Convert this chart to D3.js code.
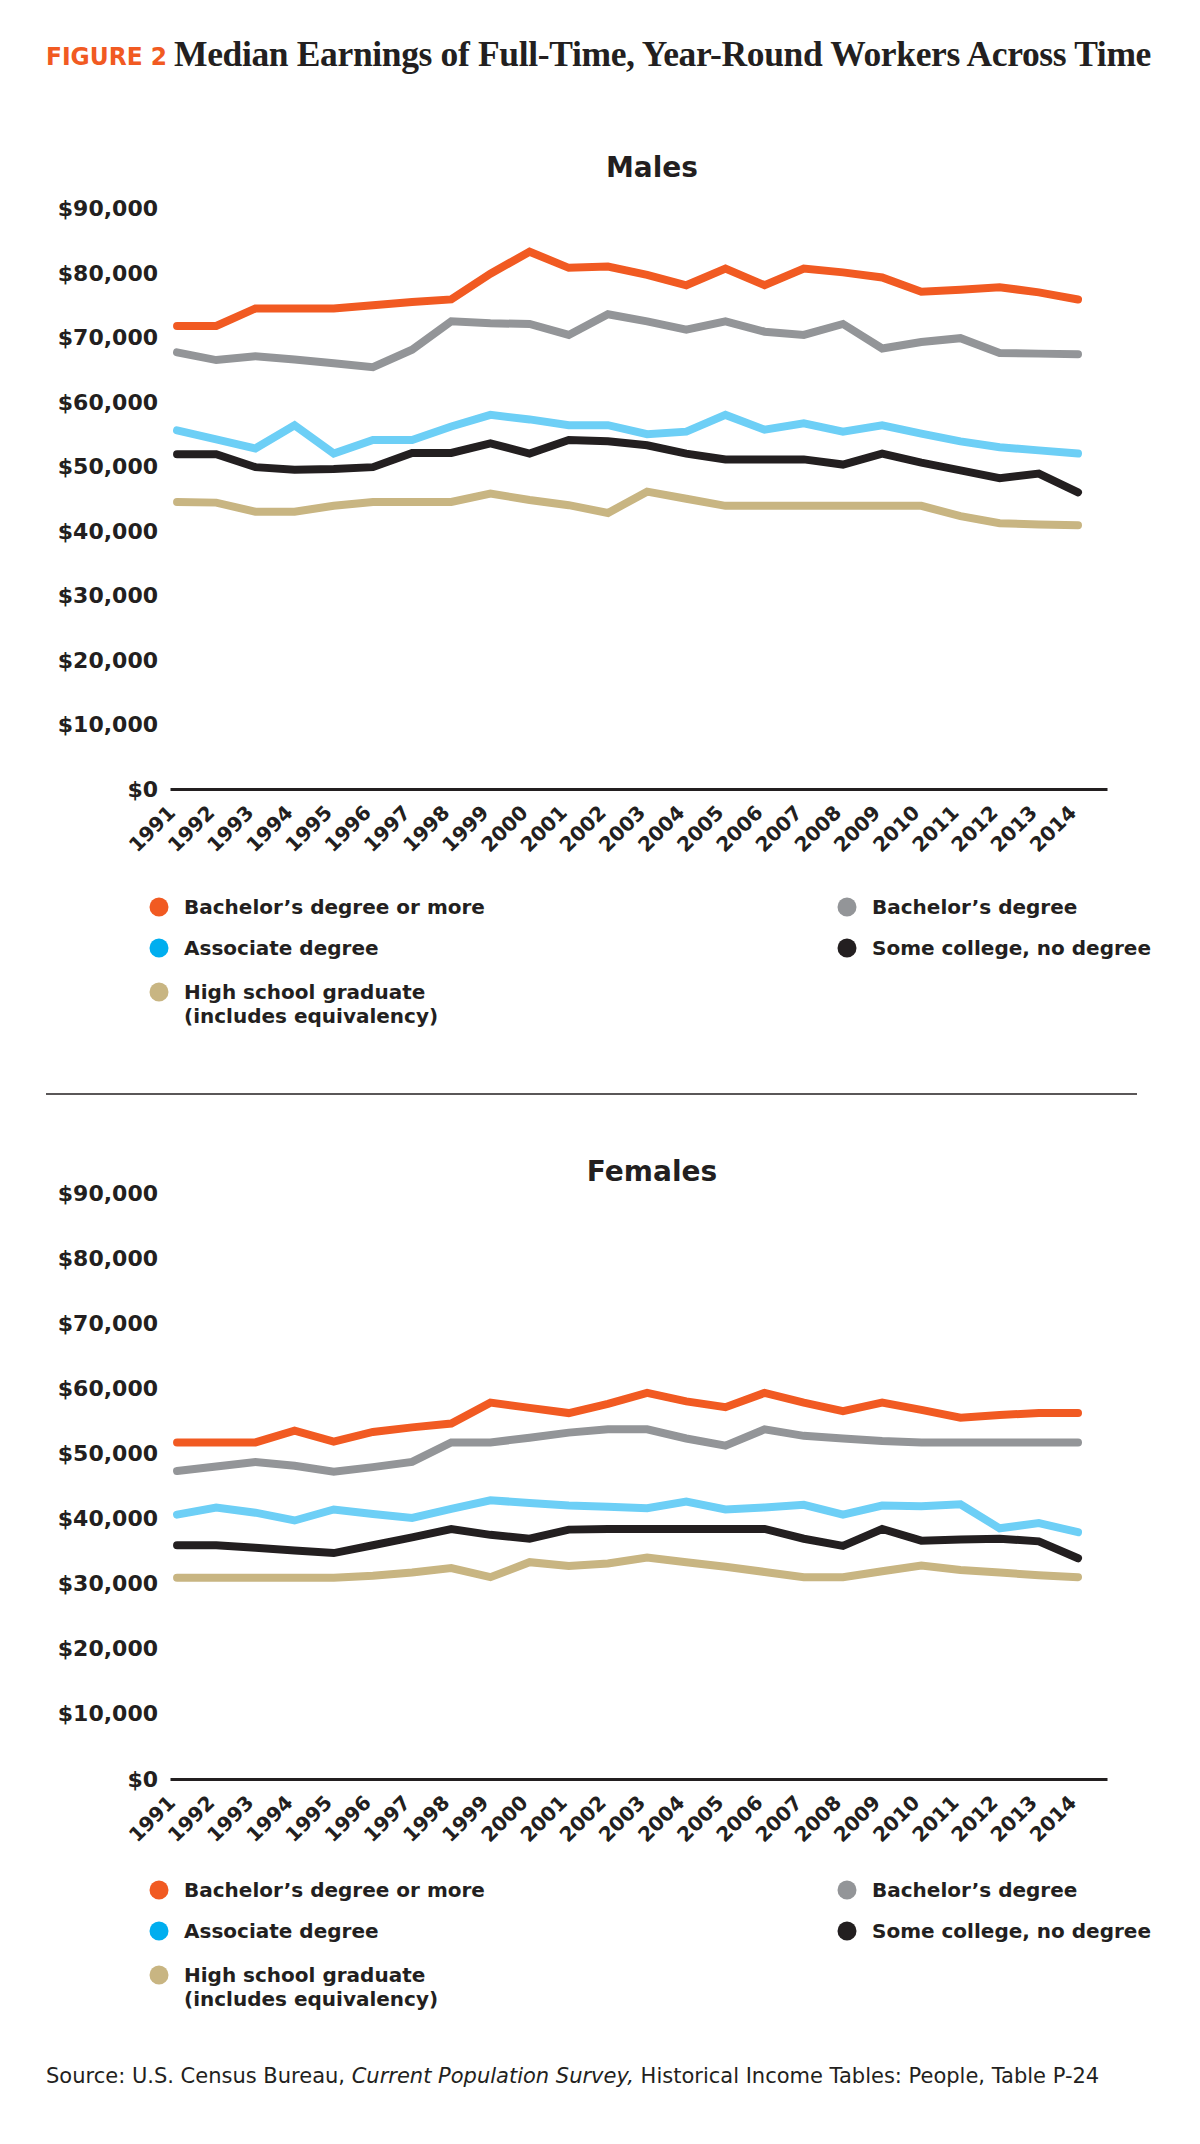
<!doctype html>
<html lang="en">
<head>
  <meta charset="utf-8">
  <title>Median Earnings of Full-Time, Year-Round Workers Across Time</title>
  <style>
    body { margin: 0; background: #fff; }
    svg { display: block; }
    .tick text { fill: #231f20; }
    .series { fill: none; stroke-width: 8; stroke-linecap: round; stroke-linejoin: miter; }
  </style>
</head>
<body>
  <script src="https://cdn.jsdelivr.net/npm/d3@7"></script>
  <script>

// years on the x axis
var years = [1991, 1992, 1993, 1994, 1995, 1996, 1997, 1998, 1999, 2000, 2001, 2002,
             2003, 2004, 2005, 2006, 2007, 2008, 2009, 2010, 2011, 2012, 2013, 2014];

var yTicks = [0, 10000, 20000, 30000, 40000, 50000, 60000, 70000, 80000, 90000];

var seriesNames = ["Bachelor\u2019s degree or more", "Bachelor\u2019s degree", "Associate degree",
                   "Some college, no degree", "High school graduate"];

// males
var maleBachPlus = [71800, 71800, 74500, 74500, 74500, 75000, 75500, 75900, 79900, 83300, 80800, 81000,
                    79700, 78100, 80700, 78100, 80700, 80100, 79300, 77100, 77400, 77800, 77000, 75900];
var maleBach     = [67700, 66500, 67100, 66600, 66000, 65400, 68100, 72500, 72200, 72100, 70400, 73600,
                    72500, 71200, 72500, 70900, 70400, 72100, 68300, 69300, 69900, 67600, 67500, 67400];
var maleAssoc    = [55600, 54200, 52800, 56400, 52000, 54100, 54100, 56200, 58000, 57300, 56400, 56400,
                    55000, 55400, 58000, 55700, 56700, 55400, 56400, 55100, 53900, 53000, 52500, 52000];
var maleSomeCol  = [51900, 51900, 49900, 49500, 49600, 49900, 52100, 52100, 53600, 52000, 54100, 53900,
                    53300, 52000, 51100, 51100, 51100, 50300, 52000, 50600, 49400, 48200, 48900, 46000];
var maleHS       = [44500, 44400, 43000, 43000, 43900, 44500, 44500, 44500, 45800, 44800, 44000, 42800,
                    46100, 45000, 43900, 43900, 43900, 43900, 43900, 43900, 42300, 41200, 41000, 40900];

// females
var femBachPlus  = [51700, 51700, 51700, 53500, 51800, 53300, 54000, 54600, 57800, 57000, 56200, 57600,
                    59300, 58000, 57100, 59300, 57800, 56500, 57800, 56700, 55500, 55900, 56200, 56200];
var femBach      = [47300, 48000, 48700, 48100, 47200, 47900, 48700, 51700, 51700, 52400, 53200, 53700,
                    53700, 52300, 51200, 53700, 52700, 52300, 51900, 51700, 51700, 51700, 51700, 51700];
var femAssoc     = [40600, 41700, 40900, 39700, 41400, 40700, 40100, 41500, 42800, 42400, 42000, 41800,
                    41600, 42600, 41400, 41700, 42100, 40600, 42000, 41900, 42200, 38500, 39300, 37900];
var femSomeCol   = [35900, 35900, 35500, 35100, 34700, 35900, 37100, 38400, 37500, 36900, 38300, 38400,
                    38400, 38400, 38400, 38400, 36900, 35800, 38400, 36600, 36800, 36900, 36500, 33900];
var femHS        = [30900, 30900, 30900, 30900, 30900, 31200, 31700, 32400, 31000, 33300, 32700, 33100,
                    34000, 33300, 32600, 31800, 31000, 31000, 31900, 32800, 32100, 31700, 31300, 31000];

var lineColors = ["#f15a22", "#939598", "#6dcff6", "#231f20", "#c8b582"];
var dotColors  = ["#f15a22", "#939598", "#00aeef", "#231f20", "#c8b582"];

var ink = "#231f20";
var sans = "'DejaVu Sans', sans-serif";

var svg = d3.select("body").append("svg")
    .attr("width", 1200)
    .attr("height", 2144);

svg.append("rect").attr("width", 1200).attr("height", 2144).attr("fill", "#fff");

// heading
svg.append("text")
    .attr("x", 46).attr("y", 65)
    .attr("fill", "#f15a22")
    .attr("font-family", sans).attr("font-weight", 700).attr("font-size", 25)
    .attr("textLength", 121).attr("lengthAdjust", "spacingAndGlyphs")
    .text("FIGURE 2");

svg.append("text")
    .attr("x", 174).attr("y", 66)
    .attr("fill", ink)
    .attr("font-family", "'Liberation Serif', serif").attr("font-weight", 700).attr("font-size", 35.5)
    .attr("letter-spacing", -0.35)
    .text("Median Earnings of Full-Time, Year-Round Workers Across Time");

// one panel: title, axes, lines, legend
var panel = function(title, series, top0, bottom0, titleY, legendY) {
  var x = d3.scaleLinear().domain([1990.82, 2014.74]).range([170, 1107]);
  var y = d3.scaleLinear().domain([0, 90000]).range([bottom0, top0]);

  var g = svg.append("g");

  g.append("text")
      .attr("x", 652).attr("y", titleY)
      .attr("text-anchor", "middle")
      .attr("fill", ink)
      .attr("font-family", sans).attr("font-weight", 700).attr("font-size", 28)
      .text(title);

  // y axis, labels only
  var yAxis = g.append("g")
      .attr("transform", "translate(158,0)")
      .call(d3.axisLeft(y).tickValues(yTicks).tickSize(0).tickPadding(0)
        .tickFormat(function(d) { return "$" + d3.format(",")(d); }));
  yAxis.select(".domain").remove();
  yAxis.selectAll("text")
      .attr("font-family", sans).attr("font-weight", 700).attr("font-size", 22);

  // x axis with rotated years
  var xAxis = g.append("g")
      .attr("transform", "translate(0," + bottom0 + ")")
      .call(d3.axisBottom(x).tickValues(years).tickSize(0).tickSizeOuter(0)
        .tickFormat(d3.format("d")));
  xAxis.select(".domain").attr("stroke", ink).attr("stroke-width", 3);
  xAxis.selectAll("text")
      .attr("x", 0).attr("y", 0).attr("dy", 0)
      .attr("text-anchor", "end")
      .attr("transform", "translate(-1,25) rotate(-45)")
      .attr("font-family", sans).attr("font-weight", 700).attr("font-size", 20);

  var line = d3.line()
      .x(function(d, i) { return x(years[i]); })
      .y(function(d) { return y(d); });

  // draw bottom series first so the top ones sit above
  for (var k = series.length - 1; k >= 0; k--) {
    g.append("path")
        .attr("class", "series")
        .attr("stroke", lineColors[k])
        .attr("d", line(series[k]));
  }

  // legend: two columns, third row holds the two-line label
  var slots = [[159, 0], [847, 0], [159, 1], [847, 1], [159, 2]];
  var rowY = [legendY, legendY + 41, legendY + 85];
  slots.forEach(function(s, k) {
    var cy = rowY[s[1]];
    g.append("circle")
        .attr("cx", s[0]).attr("cy", cy).attr("r", 9.5)
        .attr("fill", dotColors[k]);
    g.append("text")
        .attr("x", s[0] + 25).attr("y", cy + 7)
        .attr("fill", ink)
        .attr("font-family", sans).attr("font-weight", 700).attr("font-size", 20)
        .text(seriesNames[k]);
    if (k === 4) {
      g.append("text")
          .attr("x", s[0] + 25).attr("y", cy + 31)
          .attr("fill", ink)
          .attr("font-family", sans).attr("font-weight", 700).attr("font-size", 20)
          .text("(includes equivalency)");
    }
  });
};

panel("Males", [maleBachPlus, maleBach, maleAssoc, maleSomeCol, maleHS], 208.5, 789, 177, 907);

// divider between the two panels
svg.append("line")
    .attr("x1", 46).attr("x2", 1137)
    .attr("y1", 1094).attr("y2", 1094)
    .attr("stroke", ink).attr("stroke-width", 1.5);

panel("Females", [femBachPlus, femBach, femAssoc, femSomeCol, femHS], 1193, 1779, 1181, 1890);

// source line
var src = svg.append("text")
    .attr("x", 46).attr("y", 2083)
    .attr("fill", ink)
    .attr("font-family", sans).attr("font-size", 21);
src.append("tspan").text("Source: U.S. Census Bureau, ");
src.append("tspan").attr("font-style", "italic").text("Current Population Survey,");
src.append("tspan").text(" Historical Income Tables: People, Table P-24");

  </script>
</body>
</html>
